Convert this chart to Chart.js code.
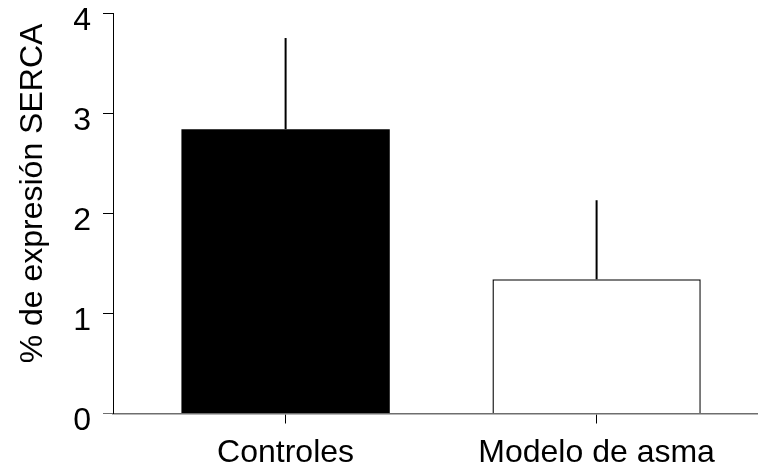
<!DOCTYPE html>
<html>
<head>
<meta charset="utf-8">
<script src="https://cdn.jsdelivr.net/npm/chart.js@4/dist/chart.umd.min.js"></script>
<style>
  html, body { margin: 0; padding: 0; background: #fff; }
  #wrap { width: 758px; height: 472px; }
</style>
</head>
<body>
<div id="wrap"><canvas id="c" width="758" height="472"></canvas></div>
<script>
// Relative SERCA expression, mean with upper error (SD)
const categories = ['Controles', 'Modelo de asma'];
const meanValues = [2.84, 1.34];
const errorValues = [0.91, 0.79];
const barFills = ['#000000', '#ffffff'];
const yTicks = [0, 1, 2, 3, 4];
const yTitle = '% de expresión SERCA';

const FONT = "'Liberation Sans', Arial, sans-serif";

// Vertical error whiskers drawn from each bar top
const errorBars = {
  id: 'errorBars',
  afterDatasetsDraw(chart) {
    const meta = chart.getDatasetMeta(0);
    const y = chart.scales.y;
    const ctx = chart.ctx;
    ctx.save();
    ctx.strokeStyle = '#000';
    ctx.lineWidth = 2;
    meta.data.forEach((bar, i) => {
      const top = y.getPixelForValue(meanValues[i] + errorValues[i]);
      const base = y.getPixelForValue(meanValues[i]);
      ctx.beginPath();
      ctx.moveTo(bar.x, base);
      ctx.lineTo(bar.x, top);
      ctx.stroke();
    });
    ctx.restore();
  }
};

// Rotated y-axis caption
const yCaption = {
  id: 'yCaption',
  afterDraw(chart) {
    const ctx = chart.ctx;
    ctx.save();
    ctx.translate(42, 193.5);
    ctx.rotate(-Math.PI / 2);
    ctx.font = '32px ' + FONT;
    ctx.fillStyle = '#000';
    ctx.textAlign = 'center';
    ctx.textBaseline = 'alphabetic';
    ctx.fillText(yTitle, 0, 0);
    ctx.restore();
  }
};

new Chart(document.getElementById('c'), {
  type: 'bar',
  data: {
    datasets: [{
      data: categories.map((c, i) => ({ x: i, y: meanValues[i] })),
      backgroundColor: barFills,
      borderColor: '#1a1a1a',
      borderWidth: [0, 1.5],
      borderSkipped: 'bottom',
      categoryPercentage: 1,
      barPercentage: 0.67
    }]
  },
  options: {
    responsive: false,
    animation: false,
    events: [],
    layout: { padding: { left: 74, top: 13, right: 0, bottom: 0 } },
    plugins: { legend: { display: false }, tooltip: { enabled: false } },
    scales: {
      x: {
        type: 'linear',
        offset: false,
        min: -0.555,
        max: 1.519,
        afterBuildTicks(scale) { scale.ticks = categories.map((c, i) => ({ value: i })); },
        afterFit(scale) { scale.height = 58.5; scale.paddingLeft = 0; scale.paddingRight = 0; },
        border: { display: true, color: '#6e6e6e', width: 1.5 },
        grid: { offset: false, drawOnChartArea: false, drawTicks: true, tickLength: 10, color: '#000', lineWidth: 1 },
        ticks: {
          padding: 10,
          color: '#000',
          maxRotation: 0,
          autoSkip: false,
          font: { family: FONT, size: 32 },
          callback: (v) => categories[v] ?? ''
        }
      },
      y: {
        min: 0,
        max: 4,
        afterBuildTicks(scale) { scale.ticks = yTicks.map(v => ({ value: v })); },
        afterFit(scale) { scale.width = 39; scale.paddingTop = 0; scale.paddingBottom = 0; },
        border: { display: true, color: '#000', width: 1 },
        grid: {
          drawOnChartArea: false, drawTicks: true, tickLength: 10, lineWidth: 1,
          color: (ctx) => ctx.tick && ctx.tick.value === 0 ? '#6e6e6e' : '#000'
        },
        ticks: {
          padding: 12,
          labelOffset: 8,
          color: '#000',
          font: { family: FONT, size: 32 }
        }
      }
    }
  },
  plugins: [errorBars, yCaption]
});
</script>
</body>
</html>
